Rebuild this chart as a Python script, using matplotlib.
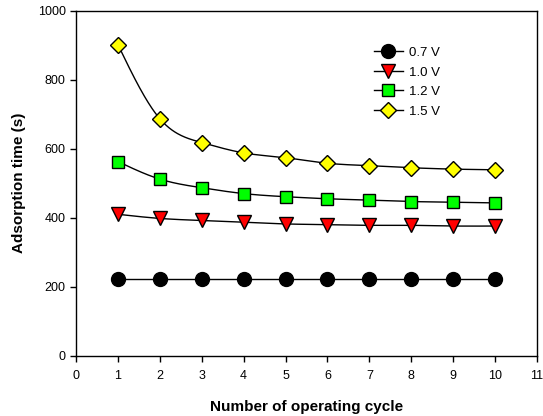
import numpy as np
import matplotlib
matplotlib.use("Agg")
import matplotlib.pyplot as plt

plt.rcParams['font.family'] = ['Liberation Sans', 'DejaVu Sans']

cycles = [1, 2, 3, 4, 5, 6, 7, 8, 9, 10]
v07 = [223, 223, 223, 223, 223, 223, 223, 223, 223, 223]
v10 = [410, 398, 392, 387, 382, 380, 378, 378, 376, 376]
v12 = [563, 512, 487, 470, 461, 455, 451, 447, 445, 443]
v15 = [902, 687, 618, 588, 574, 558, 551, 545, 541, 539]
labels = ['0.7 V', '1.0 V', '1.2 V', '1.5 V']


def spline(x, y, n=400):
    x = np.asarray(x, float); y = np.asarray(y, float)
    m = len(x); h = np.diff(x)
    A = np.zeros((m, m)); b = np.zeros(m)
    A[0, 0] = A[-1, -1] = 1
    for i in range(1, m - 1):
        A[i, i - 1] = h[i - 1]; A[i, i] = 2 * (h[i - 1] + h[i]); A[i, i + 1] = h[i]
        b[i] = 6 * ((y[i + 1] - y[i]) / h[i] - (y[i] - y[i - 1]) / h[i - 1])
    M = np.linalg.solve(A, b)
    xs = np.linspace(x[0], x[-1], n)
    idx = np.clip(np.searchsorted(x, xs) - 1, 0, m - 2)
    x0 = x[idx]; x1 = x[idx + 1]; hh = x1 - x0
    ys = (M[idx] * (x1 - xs) ** 3 / (6 * hh) + M[idx + 1] * (xs - x0) ** 3 / (6 * hh)
          + (y[idx] / hh - M[idx] * hh / 6) * (x1 - xs)
          + (y[idx + 1] / hh - M[idx + 1] * hh / 6) * (xs - x0))
    return xs, ys


fig = plt.figure(figsize=(5.43, 4.16), dpi=100)
ax = fig.add_axes([0.140, 0.145, 0.849, 0.829])

styles = [
    dict(marker='o', mfc='black', ms=10),
    dict(marker='v', mfc='#ff0000', ms=10),
    dict(marker='s', mfc='#00ff00', ms=8.5),
    dict(marker='D', mfc='#ffff00', ms=8.5),
]
handles = []
for series, st, lab in zip([v07, v10, v12, v15], styles, labels):
    xs, ys = spline(cycles, series)
    ax.plot(xs, ys, color='black', lw=1, zorder=2)
    ax.plot(cycles, series, ls='none', marker=st['marker'], mfc=st['mfc'],
            mec='black', mew=1, ms=st['ms'], zorder=3)
    h, = ax.plot([], [], color='black', lw=1, marker=st['marker'], mfc=st['mfc'],
                 mec='black', mew=1, ms=st['ms'], label=lab)
    handles.append(h)

ax.set_xlim(0, 11)
ax.set_ylim(0, 1000)
ax.set_xticks(range(0, 12))
ax.set_yticks(range(0, 1001, 200))
ax.tick_params(direction='out', length=4, width=1, labelsize=9, colors='black')
ax.tick_params(axis='x', pad=6)
for s in ax.spines.values():
    s.set_linewidth(1)
ax.set_xlabel('Number of operating cycle', fontsize=11, fontweight='bold', labelpad=13)
ax.set_ylabel('Adsorption time (s)', fontsize=11, fontweight='bold', labelpad=8)

ax.legend(handles=handles, loc='upper left', bbox_to_anchor=(0.62, 0.93), frameon=False,
          fontsize=9.5, handlelength=2.2, labelspacing=0.55, handletextpad=0.5)

fig.savefig('out.png', dpi=100)
